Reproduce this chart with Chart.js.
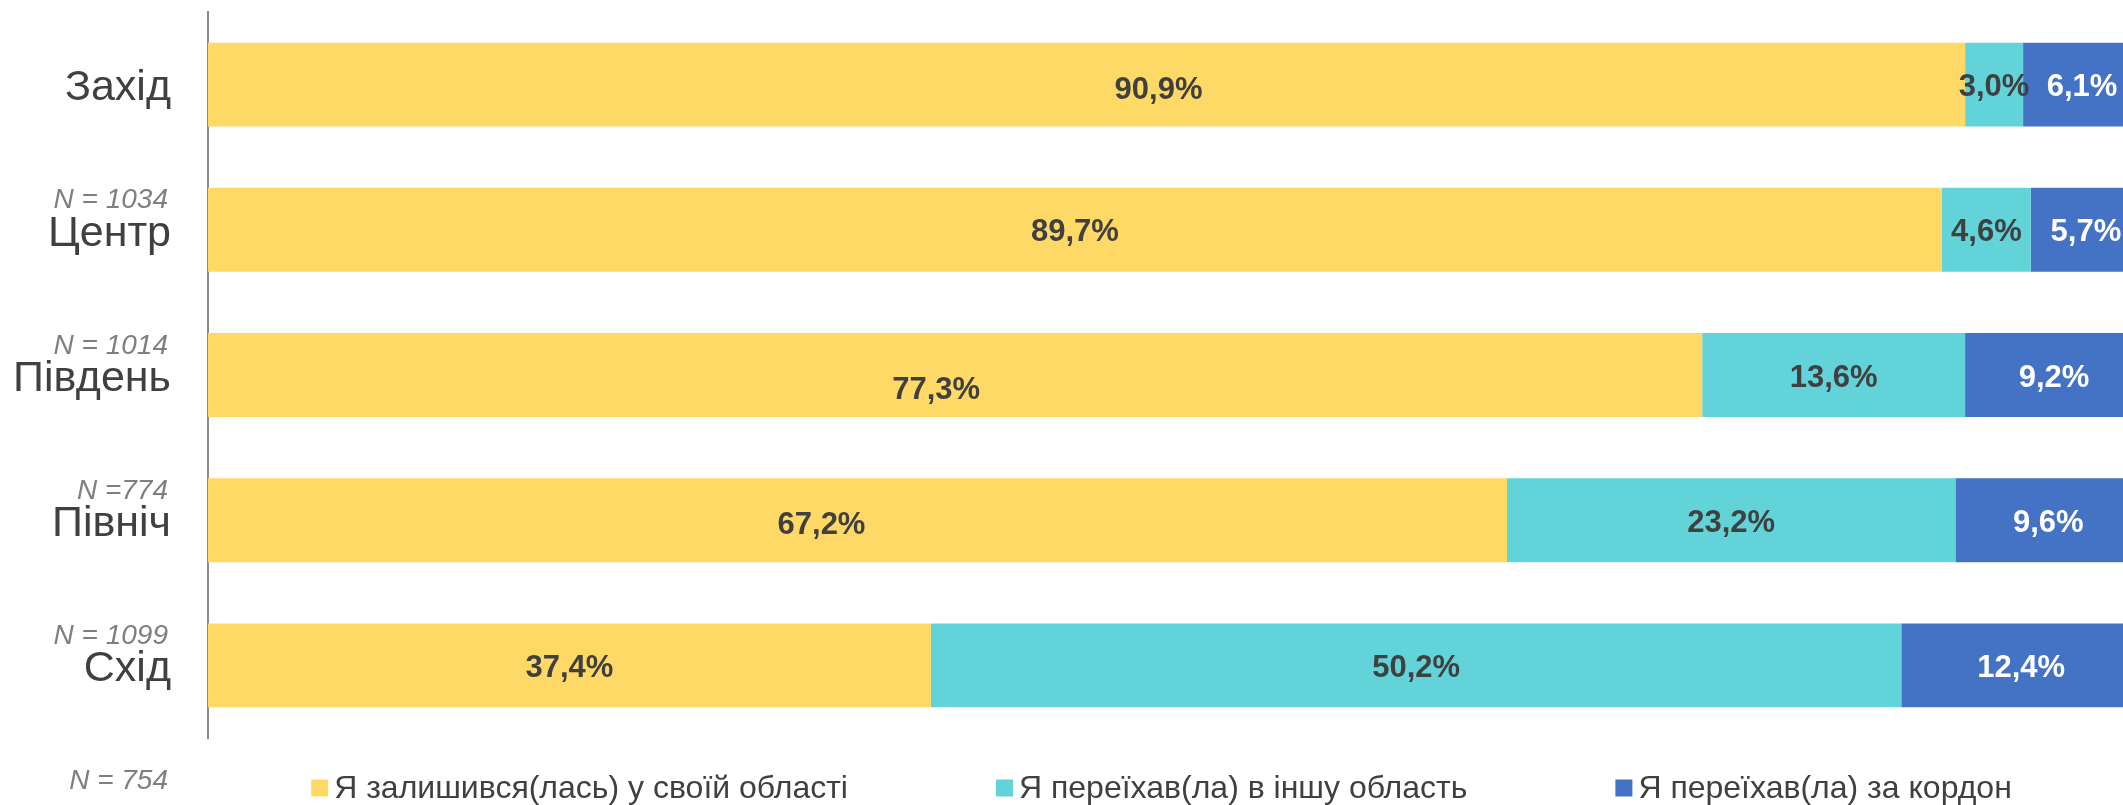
<!DOCTYPE html>
<html>
<head>
<meta charset="utf-8">
<script src="https://cdn.jsdelivr.net/npm/chart.js@4.4.1/dist/chart.umd.min.js"></script>
<style>
  html, body { margin: 0; padding: 0; background: #fff; overflow: hidden; }
  #wrap { position: absolute; left: 0; top: 0; width: 2141px; height: 805px; }
</style>
</head>
<body>
<div id="wrap"><canvas id="barChart"></canvas></div>
<script>
// regions and sample sizes
const regions = ['Захід', 'Центр', 'Південь', 'Північ', 'Схід'];
const sampleSizes = ['N = 1034', 'N = 1014', 'N =774', 'N = 1099', 'N = 754'];

// shares, %
const stayedInRegion = [90.9, 89.7, 77.3, 67.2, 37.4];
const movedToOtherRegion = [3.0, 4.6, 13.6, 23.2, 50.2];
const movedAbroad = [6.1, 5.7, 9.2, 9.6, 12.4];

const seriesNames = [
    'Я залишився(лась) у своїй області',
    'Я переїхав(ла) в іншу область',
    'Я переїхав(ла) за кордон'
];

// the first series' labels were hand-moved in the original
const nudgeX = [72, 0, -19, -36, 0];
const nudgeY = [3, 0, 12, 2, 0];

const FONT = '"Liberation Sans", Arial, sans-serif';

const barLabels = {
    id: 'barLabels',
    afterDatasetsDraw(chart) {
        const ctx = chart.ctx;
        ctx.save();
        ctx.font = 'bold 31px ' + FONT;
        ctx.textAlign = 'center';
        ctx.textBaseline = 'middle';
        chart.data.datasets.forEach((ds, di) => {
            const meta = chart.getDatasetMeta(di);
            meta.data.forEach((bar, i) => {
                let x = (bar.x + bar.base) / 2;
                let y = bar.y + 3;
                if (di === 0) { x += nudgeX[i]; y += nudgeY[i]; }
                ctx.fillStyle = di === 2 ? '#ffffff' : '#404040';
                ctx.fillText(ds.data[i].toFixed(1).replace('.', ',') + '%', x, y);
            });
        });
        ctx.restore();
    }
};

const extras = {
    id: 'extras',
    afterDraw(chart) {
        const ctx = chart.ctx;
        const yScale = chart.scales.y;
        ctx.save();
        // sample sizes
        ctx.font = 'italic 28px ' + FONT;
        ctx.fillStyle = '#7f7f7f';
        ctx.textAlign = 'right';
        ctx.textBaseline = 'middle';
        sampleSizes.forEach((s, i) => {
            ctx.fillText(s, 168, yScale.getPixelForValue(i) + 116);
        });

        // legend
        ctx.font = '32px ' + FONT;
        ctx.textAlign = 'left';
        const box = 17, boxGap = 6, itemGap = 148;
        const widths = seriesNames.map(n => box + boxGap + ctx.measureText(n).width);
        const total = widths.reduce((a, b) => a + b, 0) + itemGap * (widths.length - 1);
        const visibleRight = Math.min(window.innerWidth, chart.width);
        let x = (chart.chartArea.left + visibleRight) / 2 - total / 2 - 4;
        const y = 788;
        seriesNames.forEach((n, i) => {
            ctx.fillStyle = chart.data.datasets[i].backgroundColor;
            ctx.fillRect(x, y - box / 2, box, box);
            ctx.fillStyle = '#404040';
            ctx.fillText(n, x + box + boxGap, y + 1);
            x += widths[i] + itemGap;
        });
        ctx.restore();
    }
};

const ctx = document.getElementById('barChart').getContext('2d');
new Chart(ctx, {
    type: 'bar',
    data: {
        labels: regions,
        datasets: [
            { label: seriesNames[0], data: stayedInRegion, backgroundColor: '#FED966' },
            { label: seriesNames[1], data: movedToOtherRegion, backgroundColor: '#62D3D9' },
            { label: seriesNames[2], data: movedAbroad, backgroundColor: '#4472C4' }
        ]
    },
    options: {
        indexAxis: 'y',
        responsive: true,
        maintainAspectRatio: false,
        devicePixelRatio: 1,
        animation: false,
        layout: { padding: { top: 12, bottom: 67, left: 0, right: 0 } },
        datasets: {
            bar: { barPercentage: 0.578, categoryPercentage: 1, borderWidth: 0 }
        },
        scales: {
            x: { stacked: true, min: 0, max: 100, display: false },
            y: {
                stacked: true,
                afterFit: (scale) => {
                    scale.width = 208;
                    scale.paddingTop = 0;
                    scale.paddingBottom = 0;
                },
                grid: { display: false, drawTicks: false },
                border: { display: true, color: '#8c8c8c', width: 2 },
                ticks: {
                    padding: 37,
                    labelOffset: 4,
                    color: '#404040',
                    font: { family: FONT, size: 43 }
                }
            }
        },
        plugins: {
            legend: { display: false },
            tooltip: { enabled: false }
        }
    },
    plugins: [barLabels, extras]
});
</script>
</body>
</html>
